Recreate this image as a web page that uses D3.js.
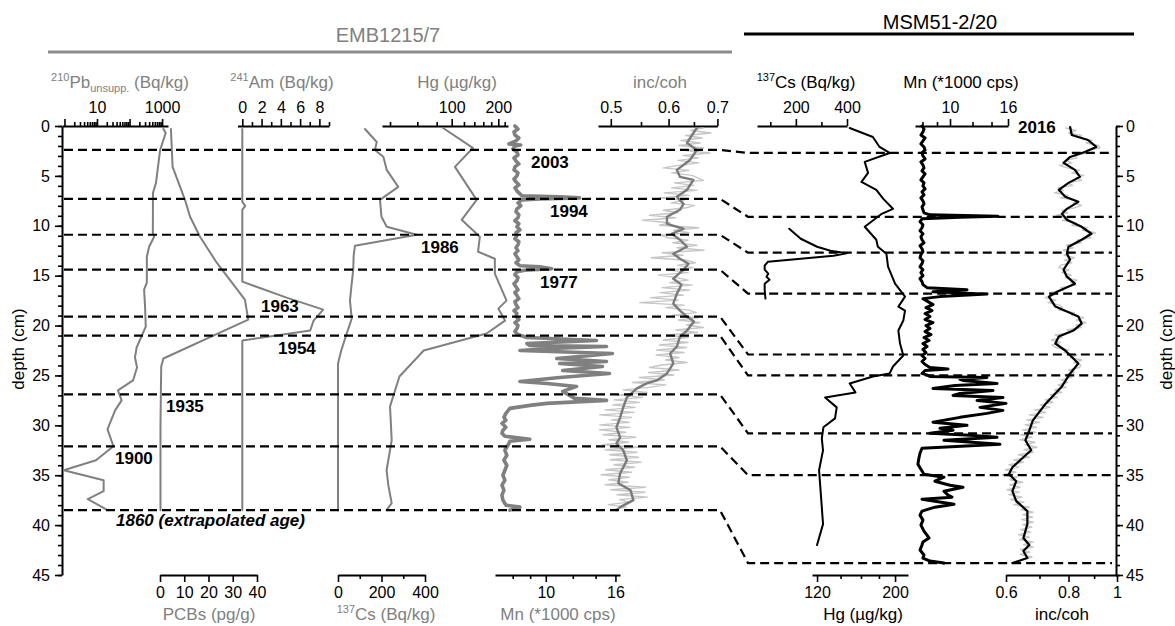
<!DOCTYPE html>
<html>
<head>
<meta charset="utf-8">
<script src="https://cdn.jsdelivr.net/npm/d3@7"></script>
<style>
  body { margin: 0; background: #fff; }
  svg { display: block; font-family: "Liberation Sans", Arial, Helvetica, sans-serif; }
</style>
</head>
<body>
<svg id="chart" width="1175" height="626"></svg>
<script>
// ---------------- data ----------------
// dated horizons (depth in cm) in both cores
const horizonAges = ["2003", "1994", "1986", "1977", "1963", "1954", "1935", "1900", "1860 (extrapolated age)"];
const horizonDepthEMB = [2.4, 7.3, 10.9, 14.4, 19.1, 21.0, 26.9, 32.1, 38.5];
const horizonDepthMSM = [2.7, 9.1, 12.7, 16.8, 22.9, 25.0, 30.8, 35.0, 43.8];

// EMB1215/7 profiles: [depth (cm), value]
const pbUnsupp = [[0.3,1100],[0.7,1290],[2.4,870],[5.7,650],[6.7,525],[10.7,520],[11.1,570],[12.1,400],[13.1,340],[15.7,340],[16.4,280],[18.1,300],[20.1,315],[22.2,165],[23.2,147],[24.2,170],[25.5,128],[26.5,44],[27.5,57],[28.5,36],[30.4,21],[32.1,32],[33.5,9.3],[34.5,0.95],[35.5,16],[36.6,16],[37.4,5.2],[38.4,18.6]];
const pcbs = [[0.3,4.5],[4.1,5.2],[7.4,10.3],[9.1,12.4],[11.1,16.5],[13.7,23.4],[17.4,35],[19.4,36.4],[23.3,1.4],[24.1,0.5],[30,0.2],[38.5,0.2]];
const am241 = [[0.3,0],[7.6,0],[8.0,0.3],[8.4,0],[15.6,0],[17.2,4.6],[18.4,8.4],[19.5,7.4],[20.5,7.05],[21.5,0],[38.5,0]];
const cs137EMB = [[0.3,124],[1.6,178],[2.4,170],[3.1,209],[4.4,224],[6.1,277],[7.4,193],[9.1,200],[10.1,224],[10.9,362],[12.0,78],[13.0,72],[14.4,70],[16.0,62],[17.5,55],[19.3,63],[20.8,40],[22.5,15],[23.8,0],[38.5,0]];
const hgEMB = [[0.2,88],[2.2,137],[4.1,105],[7.4,145],[9.4,116],[11.1,152],[12.6,148],[13.3,190],[14.8,190],[17.5,226],[18.3,200],[19.5,221],[20.8,168],[22.5,66],[25.1,46],[28.1,40],[31.5,41],[34.5,38],[36.0,39],[37.8,41],[38.5,38]];
const mnEMB = [[0.0,8.12],[0.3,8.29],[0.6,8.07],[0.9,8.12],[1.2,8.34],[1.5,8.18],[1.8,7.80],[1.9,8.45],[2.0,8.12],[2.3,8.01],[2.6,8.23],[2.9,8.29],[3.2,8.07],[3.5,8.18],[3.8,8.34],[4.1,8.12],[4.4,8.07],[4.7,8.29],[5.0,8.23],[5.3,8.07],[5.6,8.18],[5.9,8.34],[6.2,8.12],[6.5,8.23],[6.8,8.40],[7.0,8.51],[7.1,10.98],[7.2,12.56],[7.3,9.60],[7.4,8.51],[7.7,8.29],[8.0,8.45],[8.3,8.23],[8.6,8.18],[8.9,8.34],[9.2,8.29],[9.5,8.12],[9.8,8.34],[10.1,8.23],[10.4,8.40],[10.7,8.18],[11.0,8.23],[11.3,8.12],[11.6,8.34],[11.9,8.29],[12.2,8.18],[12.5,8.29],[12.8,8.12],[13.1,8.23],[13.4,8.34],[13.7,8.18],[14.0,8.40],[14.1,9.60],[14.3,10.41],[14.45,8.68],[14.6,8.23],[14.9,8.12],[15.2,8.29],[15.5,8.23],[15.8,8.07],[16.1,8.18],[16.4,8.29],[16.7,8.12],[17.0,8.23],[17.3,8.34],[17.6,8.12],[17.9,8.18],[18.2,8.29],[18.5,8.07],[18.8,8.23],[19.1,8.18],[19.4,8.34],[19.7,8.12],[20.0,8.29],[20.3,8.23],[20.6,8.12],[20.9,8.29],[21.2,8.80],[21.5,14.08],[21.8,8.80],[22.0,8.98],[22.1,15.07],[22.3,10.27],[22.5,8.40],[22.8,15.68],[23.1,12.56],[23.3,10.77],[23.6,15.07],[23.8,10.98],[24.1,14.66],[24.5,11.21],[24.8,15.37],[25.2,10.98],[25.6,8.40],[25.8,10.07],[26.1,12.31],[26.6,11.21],[27.0,11.75],[27.3,12.15],[27.5,15.07],[27.8,10.07],[28.0,8.98],[28.3,7.85],[28.8,7.64],[29.2,7.54],[29.5,7.64],[29.8,7.44],[30.2,7.64],[30.5,7.49],[30.8,7.44],[31.1,7.59],[31.4,8.98],[31.6,7.85],[32.0,7.75],[32.5,7.59],[33.0,7.69],[33.5,7.54],[34.0,7.69],[34.5,7.59],[35.0,7.49],[35.5,7.59],[36.0,7.44],[36.5,7.54],[37.0,7.44],[37.5,7.49],[38.0,7.64],[38.2,8.40],[38.5,7.85]];
const incCohEMBSmooth = [[0.2,.656],[0.7,.649],[1.7,.636],[2.4,.656],[3.4,.642],[4.4,.616],[5.1,.622],[5.4,.649],[6.4,.636],[7.1,.616],[7.8,.629],[8.4,.622],[9.1,.597],[9.8,.597],[10.3,.629],[10.8,.606],[11.4,.622],[12.1,.636],[12.8,.609],[13.3,.622],[13.8,.639],[14.4,.629],[15.3,.609],[15.9,.625],[16.8,.616],[17.8,.609],[18.5,.622],[19.1,.636],[19.6,.650],[20.5,.636],[21.1,.622],[22.1,.616],[22.8,.603],[23.8,.609],[24.8,.597],[25.5,.578],[25.8,.560],[26.3,.543],[27.2,.526],[28.2,.520],[29.2,.515],[30.2,.509],[31.2,.515],[31.8,.509],[32.5,.520],[33.5,.526],[34.8,.515],[35.8,.512],[36.5,.532],[37.5,.537],[38.2,.515],[38.5,.509]];
// raw scan values, one every 0.25 cm from 0.2 cm
const incCohEMBRaw = [
  .669,.644,.686,.633,.667,.624,.663,.620, .670,.634,.684,.628,.659,.618,.660,.620,
  .590,.640,.606,.646,.658,.670,.611,.650, .606,.656,.592,.640,.584,.630,.605,.651,
  .635,.590,.618,.565,.613,.553,.603,.583, .660,.610,.640,.584,.600,.638,.608,.656,
  .616,.671,.588,.628,.568,.634,.653,.618, .648,.602,.638,.581,.615,.638,.602,.646,
  .588,.641,.584,.629,.567,.619,.548,.630, .595,.640,.655,.608,.659,.619,.662,.635,
  .670,.614,.658,.597,.638,.590,.638,.583, .635,.578,.630,.577,.620,.594,.636,.587,
  .565,.620,.563,.610,.547,.592,.535,.595, .564,.520,.561,.510,.553,.505,.547,.503,
  .540,.491,.538,.483,.534,.501,.530,.483, .531,.482,.524,.488,.541,.497,.529,.487,
  .544,.491,.543,.498,.546,.499,.550,.505, .539,.492,.534,.485,.530,.497,.528,.491,
  .558,.500,.557,.510,.561,.514,.530,.496, .525,.500];

// MSM51-2/20 profiles: [depth (cm), value]
const cs137MSM = [[10.3,174],[11.3,219],[12.1,283],[12.5,335],[12.75,399],[13.0,347],[13.6,91],[14.0,78],[14.4,78],[14.8,92],[15.1,85],[15.4,97],[15.8,78],[16.4,78],[17.3,81]];
const hgMSM = [[0.2,148.6],[1.1,173],[2.1,180.7],[2.7,193],[3.6,164],[4.7,167.6],[5.6,160.5],[6.4,176.9],[7.3,185.2],[8.3,197.3],[8.8,183.3],[10.1,164],[11.4,176.9],[12.1,178.7],[12.8,189],[14.1,191],[15.8,200],[17.1,213.5],[18.1,204.4],[18.5,213.5],[19.5,211.1],[20.5,204.4],[21.8,206.6],[23.0,211.1],[24.1,197.3],[24.8,193],[25.1,173],[25.8,148.6],[26.7,154.3],[27.2,126.5],[28.2,136.5],[29.3,135],[30.2,125.1],[31.3,123.8],[32.5,124.8],[34.5,121.6],[37.2,123.2],[39.9,124.8],[42.0,120]];
const mnMSM = [[0.0,7.97],[0.3,8.10],[0.6,8.03],[0.9,7.90],[1.2,8.17],[1.5,8.03],[1.8,7.90],[2.1,8.10],[2.4,8.17],[2.7,7.97],[3.0,8.03],[3.3,8.17],[3.6,7.90],[3.9,8.03],[4.2,8.10],[4.5,7.97],[4.8,8.17],[5.1,8.03],[5.4,7.90],[5.7,8.10],[6.0,8.03],[6.3,8.17],[6.6,7.97],[6.9,8.10],[7.2,7.90],[7.5,8.03],[7.8,8.10],[8.1,7.97],[8.4,8.03],[8.7,8.10],[8.9,8.50],[9.05,14.75],[9.15,10.84],[9.3,7.97],[9.6,7.84],[9.9,8.03],[10.2,7.97],[10.5,7.84],[10.8,8.03],[11.1,7.90],[11.4,7.97],[11.7,8.10],[12.0,7.84],[12.3,7.97],[12.6,8.03],[12.9,7.90],[13.2,7.84],[13.5,8.03],[13.8,7.97],[14.1,7.84],[14.4,8.03],[14.7,7.90],[15.0,8.03],[15.3,7.84],[15.6,7.97],[15.9,8.03],[16.2,8.30],[16.4,11.48],[16.6,8.71],[16.85,13.49],[17.1,9.22],[17.3,8.03],[17.6,8.37],[17.9,8.71],[18.2,8.23],[18.5,8.64],[18.8,8.17],[19.1,8.50],[19.4,8.17],[19.7,8.71],[20.0,8.23],[20.3,8.50],[20.6,8.17],[20.9,8.57],[21.2,8.10],[21.5,8.44],[21.8,8.03],[22.1,8.30],[22.4,8.03],[22.7,8.23],[23.0,7.97],[23.3,8.17],[23.6,7.97],[23.9,8.17],[24.2,8.50],[24.35,9.84],[24.5,8.17],[24.8,7.97],[25.0,8.37],[25.1,8.50],[25.2,13.49],[25.4,10.84],[25.5,11.11],[25.8,14.64],[26.0,10.41],[26.3,8.71],[26.5,14.17],[26.8,10.84],[27.0,10.25],[27.2,15.36],[27.5,12.45],[27.8,15.74],[28.2,12.75],[28.5,15.36],[28.8,13.49],[29.2,10.84],[29.7,8.71],[30.0,11.48],[30.3,9.22],[30.5,10.25],[30.8,8.50],[31.0,11.76],[31.2,14.64],[31.5,9.52],[31.9,14.99],[32.3,7.97],[32.8,7.84],[33.3,7.77],[33.9,7.71],[34.4,7.90],[34.9,8.10],[35.2,9.52],[35.6,8.85],[36.0,10.00],[36.2,11.11],[36.6,9.52],[37.0,9.84],[37.2,10.16],[37.4,7.97],[37.9,10.33],[38.2,8.85],[38.6,7.97],[39.0,7.84],[39.5,8.03],[40.0,7.90],[40.6,8.10],[41.0,8.30],[41.3,8.44],[41.7,8.03],[42.0,7.97],[42.5,7.84],[43.0,8.10],[43.3,8.03],[43.6,8.50],[43.8,9.52]];
const incCohMSMSmooth = [[0.1,.806],[0.9,.812],[1.4,.875],[2.1,.909],[2.6,.862],[3.1,.806],[3.7,.782],[4.4,.824],[5.1,.843],[5.7,.800],[6.4,.765],[7.1,.788],[7.6,.837],[8.3,.794],[8.8,.776],[9.4,.794],[10.1,.850],[10.8,.889],[11.4,.850],[12.1,.800],[12.8,.794],[13.4,.806],[14.4,.782],[15.1,.794],[15.8,.824],[16.6,.759],[17.1,.731],[18.1,.753],[19.1,.837],[19.8,.850],[20.5,.818],[21.1,.765],[21.8,.753],[22.5,.788],[23.3,.818],[23.8,.837],[24.8,.806],[26.1,.776],[27.8,.721],[29.5,.679],[30.5,.668],[31.5,.656],[32.5,.674],[33.2,.650],[34.2,.618],[34.9,.608],[35.6,.629],[36.6,.618],[37.6,.629],[37.9,.639],[38.6,.662],[39.9,.662],[41.3,.650],[42.0,.668],[42.6,.650],[43.3,.662],[43.8,.618]];
// raw scan values, one every 0.25 cm from 0.2 cm
const incCohMSMRaw = [
  .790,.828,.800,.848,.845,.892,.868,.918, .925,.872,.880,.822,.832,.790,.812,.768,
  .795,.842,.812,.858,.828,.850,.798,.815, .762,.782,.750,.798,.770,.828,.818,.850,
  .822,.776,.798,.758,.803,.778,.828,.812, .872,.852,.905,.870,.888,.832,.848,.792,
  .818,.780,.812,.784,.822,.785,.812,.772, .765,.802,.776,.810,.790,.832,.808,.828,
  .772,.782,.735,.750,.718,.755,.728,.768, .778,.765,.822,.812,.858,.830,.868,.828,
  .848,.795,.808,.752,.776,.740,.770,.742, .754,.800,.785,.832,.806,.850,.820,.846,
  .842,.800,.822,.786,.810,.772,.798,.762, .792,.750,.775,.735,.760,.718,.745,.702,
  .735,.685,.720,.668,.712,.660,.700,.655, .690,.648,.688,.642,.675,.640,.686,.655,
  .692,.652,.680,.635,.668,.622,.650,.608, .635,.598,.628,.590,.632,.610,.648,.610,
  .640,.603,.638,.608,.645,.612,.652,.622, .668,.642,.680,.648,.678,.645,.680,.648,
  .676,.642,.672,.636,.668,.638,.680,.650, .680,.642,.670,.640,.676,.648,.628];

// ---------------- drawing ----------------
const svg = d3.select("#chart");
const FONT = '"Liberation Sans", Arial, Helvetica, sans-serif';
const GREY = "#808080";
const GREY_DARK = "#7a7a7a";
const GREY_LIGHT = "#c6c6c6";

const y = d3.scaleLinear().domain([0, 45]).range([126, 575]);
const depthMajor = d3.range(0, 46, 5);
const depthMinor = d3.range(0, 46, 1);

// x scales of the individual tracks
const xPb = d3.scaleLog().domain([0.84, 1520]).range([62, 168]);
const xPcb = d3.scaleLinear().domain([0, 40]).range([160, 257]);
const xAm = d3.scaleLinear().domain([-0.5, 9]).range([237.5, 329]);
const xCsE = d3.scaleLinear().domain([0, 400]).range([338, 425]);
const xHgE = d3.scaleLog().domain([35.5, 231]).range([382, 508]);
const xMnE = d3.scaleLog().domain([7.1, 16.5]).range([495, 620]);
const xIncE = d3.scaleLog().domain([0.4802, 0.7]).range([598, 717.4]);
const xCsM = d3.scaleLinear().domain([48, 400]).range([757, 847]);
const xMnM = d3.scaleLog().domain([7.53, 16]).range([915, 1008]);
const xHgM = d3.scaleLog().domain([116.1, 217.7]).range([812, 908]);
const xIncM = d3.scaleLog().domain([0.6, 1.0]).range([1006, 1117]);

function drawAxis(scale, orient, pos, majors, minors, fmt, pad) {
  const mk = { top: d3.axisTop, bottom: d3.axisBottom, left: d3.axisLeft, right: d3.axisRight }[orient];
  const horiz = orient === "top" || orient === "bottom";
  const tr = horiz ? `translate(0,${pos})` : `translate(${pos},0)`;
  if (minors.length) {
    const gMin = svg.append("g").attr("transform", tr)
      .call(mk(scale).tickValues(minors).tickSize(4).tickSizeOuter(0).tickFormat(""));
    gMin.select(".domain").remove();
    gMin.selectAll(".tick line").attr("stroke", "#000").attr("stroke-width", 1.6);
  }
  const gMaj = svg.append("g").attr("transform", tr)
    .call(mk(scale).tickValues(majors).tickSize(7).tickSizeOuter(0).tickPadding(pad).tickFormat(fmt));
  gMaj.attr("font-family", null).attr("font-size", null);
  gMaj.select(".domain").attr("stroke", "#000").attr("stroke-width", 2);
  gMaj.selectAll(".tick line").attr("stroke", "#000").attr("stroke-width", 1.6);
  gMaj.selectAll(".tick text").attr("fill", "#000")
    .style("font-size", "16px").style("font-family", FONT);
}

function title(x, yBase, parts, color) {
  const t = svg.append("text").attr("x", x).attr("y", yBase)
    .attr("text-anchor", "middle").attr("fill", color)
    .style("font-size", "17px").style("white-space", "pre");
  let off = 0;
  parts.forEach(([s, kind]) => {
    const target = kind === "sup" ? -7 : kind === "sub" ? 4 : 0;
    t.append("tspan").attr("dy", target - off)
      .style("font-size", kind === "n" ? "17px" : "11px").text(s);
    off = target;
  });
}

function profile(data, xs, color, width) {
  svg.append("path").datum(data)
    .attr("fill", "none").attr("stroke", color).attr("stroke-width", width)
    .attr("stroke-linejoin", "round").attr("stroke-linecap", "round")
    .attr("d", d3.line().x(d => xs(d[1])).y(d => y(d[0])));
}

const withDepth = vals => vals.map((v, i) => [0.2 + 0.25 * i, v]);
const only = list => d => list.includes(d) ? String(d) : "";

// core headers
svg.append("text").attr("x", 388).attr("y", 42).attr("text-anchor", "middle")
  .attr("fill", GREY).style("font-size", "20px").text("EMB1215/7");
svg.append("line").attr("x1", 48).attr("x2", 732).attr("y1", 52).attr("y2", 52)
  .attr("stroke", "#8c8c8c").attr("stroke-width", 3);
svg.append("text").attr("x", 940).attr("y", 29).attr("text-anchor", "middle")
  .attr("fill", "#000").style("font-size", "20px").text("MSM51-2/20");
svg.append("line").attr("x1", 744).attr("x2", 1134).attr("y1", 34).attr("y2", 34)
  .attr("stroke", "#000").attr("stroke-width", 3);

// depth axes
drawAxis(y, "left", 62, depthMajor, depthMinor, d3.format("d"), 5);
drawAxis(y, "right", 1116, depthMajor, depthMinor, d3.format("d"), 3);
svg.append("text").attr("transform", "translate(24,349) rotate(-90)")
  .attr("text-anchor", "middle").style("font-size", "17px").text("depth (cm)");
svg.append("text").attr("transform", "translate(1172,349) rotate(-90)")
  .attr("text-anchor", "middle").style("font-size", "17px").text("depth (cm)");

// top axes
drawAxis(xPb, "top", 126, [1, 10, 100, 1000],
  [2,3,4,5,6,7,8,9,20,30,40,50,60,70,80,90,200,300,400,500,600,700,800,900], only([10, 1000]), 6);
drawAxis(xAm, "top", 126, [0, 2, 4, 6, 8], [1, 3, 5, 7, 9], d3.format("d"), 6);
drawAxis(xHgE, "top", 126, [100, 200], [40, 60, 80, 120, 140, 160, 180, 220], d3.format("d"), 6);
drawAxis(xIncE, "top", 126, [0.5, 0.6, 0.7], [0.55, 0.65], d3.format(".1f"), 6);
drawAxis(xCsM, "top", 126, [200, 400], [100, 300], d3.format("d"), 6);
drawAxis(xMnM, "top", 126, [10, 16], [8, 9, 12, 14], d3.format("d"), 6);

// bottom axes
drawAxis(xPcb, "bottom", 575, [0, 10, 20, 30, 40], [], d3.format("d"), 5);
drawAxis(xCsE, "bottom", 575, [0, 200, 400], [100, 300], d3.format("d"), 5);
drawAxis(xMnE, "bottom", 575, [10, 16], [8, 9, 12, 14], d3.format("d"), 5);
drawAxis(xHgM, "bottom", 575, [120, 200], [140, 160, 180], d3.format("d"), 5);
drawAxis(xIncM, "bottom", 575, [0.6, 0.8, 1], [0.7, 0.9], d => d === 1 ? "1" : d3.format(".1f")(d), 5);

// axis titles
title(120, 88, [["210", "sup"], ["Pb", "n"], ["unsupp.", "sub"], [" (Bq/kg)", "n"]], GREY);
title(282, 88, [["241", "sup"], ["Am (Bq/kg)", "n"]], GREY);
title(457, 88, [["Hg (\u00b5g/kg)", "n"]], GREY);
title(660, 88, [["inc/coh", "n"]], GREY);
title(806, 88, [["137", "sup"], ["Cs (Bq/kg)", "n"]], "#000");
title(961, 88, [["Mn (*1000 cps)", "n"]], "#000");
title(209, 620, [["PCBs (pg/g)", "n"]], GREY);
title(386, 620, [["137", "sup"], ["Cs (Bq/kg)", "n"]], GREY);
title(558, 620, [["Mn (*1000 cps)", "n"]], GREY);
title(863, 620, [["Hg (\u00b5g/kg)", "n"]], "#000");
title(1062, 620, [["inc/coh", "n"]], "#000");

// EMB1215/7 profiles
profile(pbUnsupp, xPb, GREY, 2);
profile(pcbs, xPcb, GREY, 2);
profile(am241, xAm, GREY, 2);
profile(cs137EMB, xCsE, GREY, 2);
profile(hgEMB, xHgE, GREY, 2);
profile(mnEMB, xMnE, GREY, 3.6);
profile(withDepth(incCohEMBRaw), xIncE, GREY_LIGHT, 1.4);
profile(incCohEMBSmooth, xIncE, GREY_DARK, 2.4);

// MSM51-2/20 profiles
profile(cs137MSM, xCsM, "#000", 2);
profile(hgMSM, xHgM, "#000", 2);
profile(mnMSM, xMnM, "#000", 3);
profile(withDepth(incCohMSMRaw), xIncM, GREY_LIGHT, 1.4);
profile(incCohMSMSmooth, xIncM, "#000", 2.2);

// correlation lines between the two cores
horizonAges.forEach((age, i) => {
  const yl = y(horizonDepthEMB[i]), yr = y(horizonDepthMSM[i]);
  svg.append("path")
    .attr("d", `M64,${yl}H720L748,${yr}H1112`)
    .attr("fill", "none").attr("stroke", "#000").attr("stroke-width", 2.2)
    .attr("stroke-dasharray", "9,5");
});

// age labels
const labelLayout = [
  { x: 531, dy: 18 }, { x: 550, dy: 18 }, { x: 421, dy: 18 }, { x: 540, dy: 18 },
  { x: 261, dy: -5 }, { x: 278, dy: 18 }, { x: 166, dy: 18 }, { x: 115, dy: 18 }, { x: 116, dy: 16 }
];
horizonAges.forEach((age, i) => {
  svg.append("text")
    .attr("x", labelLayout[i].x).attr("y", y(horizonDepthEMB[i]) + labelLayout[i].dy)
    .style("font-size", "17px").style("font-weight", "bold")
    .style("font-style", i === horizonAges.length - 1 ? "italic" : "normal")
    .text(age);
});
svg.append("text").attr("x", 1018).attr("y", 133)
  .style("font-size", "17px").style("font-weight", "bold").text("2016");
</script>
</body>
</html>
